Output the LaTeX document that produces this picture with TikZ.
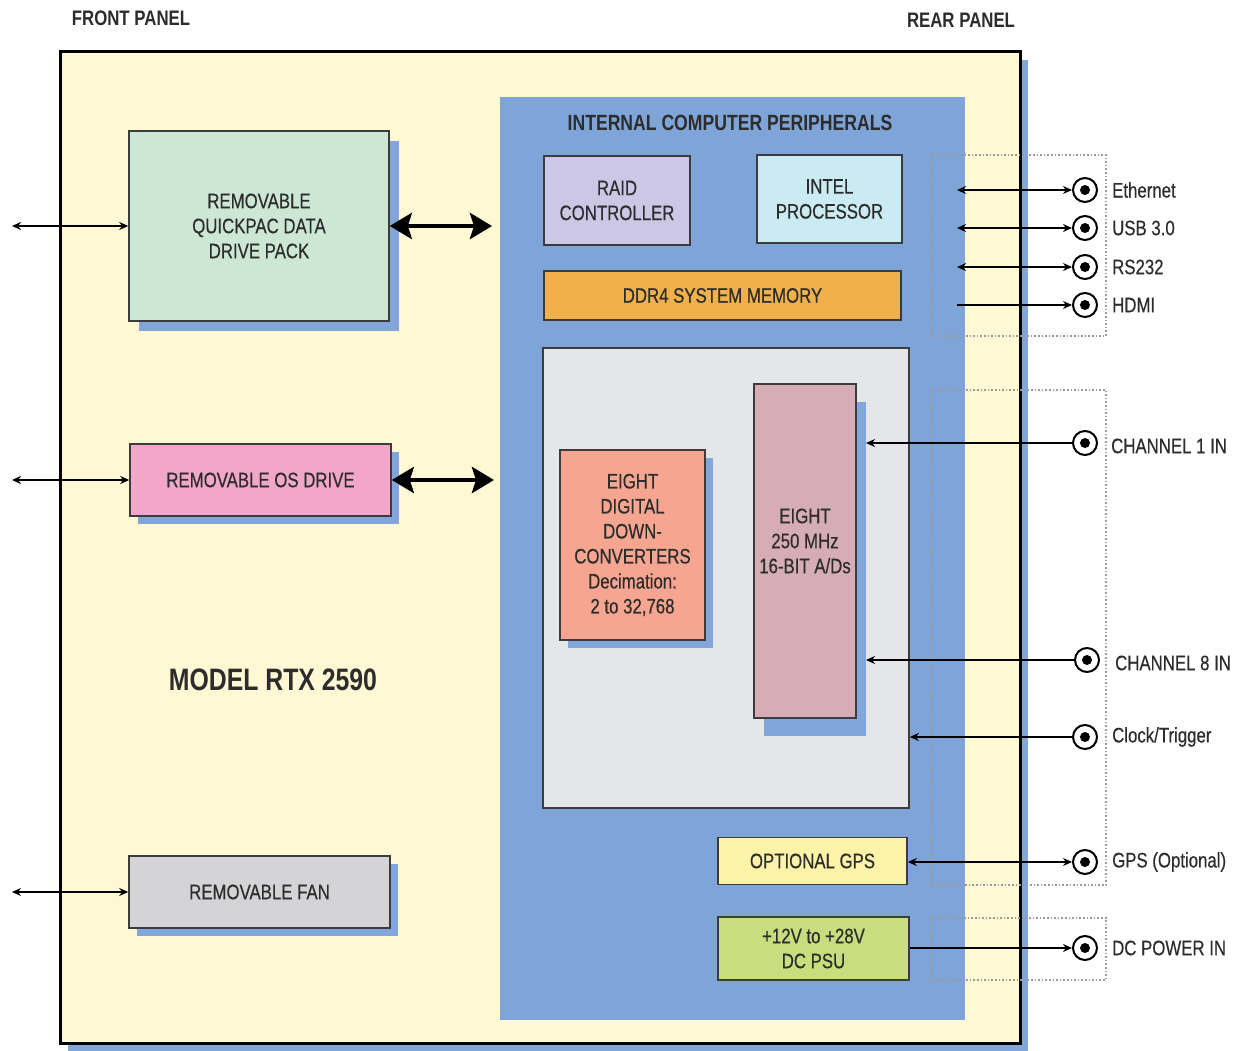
\documentclass[tikz,border=0pt]{standalone}
\usepackage{fontspec}
\setmainfont[FakeStretch=0.8,FakeBold=0.4]{Liberation Sans}
\newfontfamily\boldtitle[FakeStretch=0.8]{Liberation Sans Bold}
\usetikzlibrary{shadows,arrows.meta}
\definecolor{cream}{HTML}{FFF8D4}
\definecolor{panelblue}{HTML}{7FA5D8}
\definecolor{shadowblue}{HTML}{82A6DA}
\definecolor{innergray}{HTML}{E4E6EA}
\definecolor{raidc}{HTML}{CDC7E6}
\definecolor{intelc}{HTML}{CBEBF2}
\definecolor{ddrc}{HTML}{F0B04C}
\definecolor{ddcc}{HTML}{F6A690}
\definecolor{adcc}{HTML}{D6ADB7}
\definecolor{gpsc}{HTML}{FCF2A8}
\definecolor{psuc}{HTML}{C8DD7E}
\definecolor{quickc}{HTML}{CDE7D5}
\definecolor{osc}{HTML}{F2A6CA}
\definecolor{fanc}{HTML}{D4D4D7}
\definecolor{txt}{HTML}{2C2C2C}
\definecolor{edge}{HTML}{3C3C3C}
\definecolor{dotc}{HTML}{9A9A9A}
\tikzset{
  base/.style={font=\fontsize{21}{25}\selectfont, text=txt},
  title/.style={font=\boldtitle\fontsize{#1}{#1}\selectfont, text=txt, inner sep=0pt},
  blk/.style={draw=edge, line width=1.6pt, align=center, inner sep=0pt, base},
  shad/.style={drop shadow={shadow xshift=#1pt, shadow yshift=-#1pt, fill=shadowblue, opacity=1}},
  jack/.style={circle, draw=black, line width=2pt, fill=white, minimum size=24pt, inner sep=0pt,
    path picture={\fill[black] (path picture bounding box.center) circle (5pt);}},
  lbl/.style={base, anchor=west, inner sep=0pt},
  wire/.style={line width=1.5pt, black},
  fat/.style={line width=4.5pt, black, {Stealth[length=22pt,width=26pt,inset=4pt]}-{Stealth[length=22pt,width=26pt,inset=4pt]}},
  frame/.style={dotc, line width=1.6pt, dotted},
  >={Stealth[length=9pt,width=8pt]}
}
\begin{document}
\begin{tikzpicture}[x=1pt,y=-1pt]
\useasboundingbox[fill=white] (0,0) rectangle (1243,1051);

% chassis
\node[draw=black, line width=3pt, fill=cream, minimum width=960pt, minimum height=991pt, inner sep=0pt,
  drop shadow={shadow xshift=8pt, shadow yshift=-8pt, fill=shadowblue, opacity=1}] (chassis) at (540,547.5) {};
\node[fill=panelblue, minimum width=465pt, minimum height=923pt, inner sep=0pt] (periph) at (732.5,558.5) {};

% dotted rear-panel frames
\draw[frame] (931,155) rectangle (1106,336);
\draw[frame] (931,390) rectangle (1106,885);
\draw[frame] (931,918) rectangle (1106,980);

% titles
\node[title=21] (front) at (131,18) {FRONT PANEL};
\node[title=21] (rear) at (961,20) {REAR PANEL};
\node[title=22] (periphtitle) at (730,123) {INTERNAL COMPUTER PERIPHERALS};
\node[title=31] (model) at (273,680) {MODEL RTX 2590};

% internal blocks
\node[blk, fill=raidc, minimum width=146pt, minimum height=89pt] (raid) at (617,200.5) {RAID\\CONTROLLER};
\node[blk, fill=intelc, minimum width=145pt, minimum height=88pt] (intel) at (829.5,199) {INTEL\\PROCESSOR};
\node[blk, fill=ddrc, minimum width=357pt, minimum height=49pt] (ddr) at (722.5,295.5) {DDR4 SYSTEM MEMORY};
\node[blk, fill=innergray, minimum width=366pt, minimum height=460pt] (inner) at (726,578) {};
\node[blk, fill=ddcc, minimum width=145pt, minimum height=190pt, shad=8] (ddc) at (632.5,545)
  {EIGHT\\DIGITAL\\DOWN-\\CONVERTERS\\Decimation:\\2 to 32,768};
\node[blk, fill=adcc, minimum width=102pt, minimum height=334pt,
  drop shadow={shadow xshift=10pt, shadow yshift=-18pt, fill=shadowblue, opacity=1}] (adc) at (805,551) {};
\node[base, align=center, inner sep=0pt] (adctext) at (805,541) {EIGHT\\250 MHz\\16-BIT A/Ds};
\node[blk, fill=gpsc, minimum width=189pt, minimum height=47pt] (gps) at (812.5,861) {OPTIONAL GPS};
\node[blk, fill=psuc, minimum width=191pt, minimum height=63pt] (psu) at (813.5,948.5) {+12V to +28V\\DC PSU};

% front panel blocks
\node[blk, fill=quickc, minimum width=260pt, minimum height=190pt, shad=10] (quick) at (259,226)
  {REMOVABLE\\QUICKPAC DATA\\DRIVE PACK};
\node[blk, fill=osc, minimum width=261pt, minimum height=72pt, shad=8] (os) at (260.5,480) {REMOVABLE OS DRIVE};
\node[blk, fill=fanc, minimum width=261pt, minimum height=72pt, shad=8] (fan) at (259.5,892) {REMOVABLE FAN};

% front connectors
\coordinate (fq) at (12,226);
\coordinate (fo) at (12,480);
\coordinate (ff) at (12,892);
\draw[wire, <->] (fq) -- (quick.west);
\draw[wire, <->] (fo) -- (os.west);
\draw[wire, <->] (ff) -- (fan.west);
\coordinate (bq) at (492,226);
\coordinate (bo) at (494,480);
\draw[fat] (quick.east) -- (bq);
\draw[fat] (os.east) -- (bo);

% rear jacks
\node[jack] (eth) at (1085,190) {};
\node[jack] (usb) at (1085,228) {};
\node[jack] (rs) at (1085,267) {};
\node[jack] (hdmi) at (1085,305) {};
\node[jack] (ch1) at (1085,443) {};
\node[jack] (ch8) at (1087,660) {};
\node[jack] (clk) at (1085,737) {};
\node[jack] (gpsj) at (1085,862) {};
\node[jack] (dcj) at (1085,948) {};

\node[lbl] (ethl) at (1112,190) {Ethernet};
\node[lbl] (usbl) at (1112,228) {USB 3.0};
\node[lbl] (rsl) at (1112,267) {RS232};
\node[lbl] (hdmil) at (1112,305) {HDMI};
\node[lbl] (ch1l) at (1111,446) {CHANNEL 1 IN};
\node[lbl] (ch8l) at (1115,663) {CHANNEL 8 IN};
\node[lbl] (clkl) at (1112,737) {Clock/Trigger};
\node[lbl] (gpsl) at (1112,862) {GPS (Optional)};
\node[lbl] (dcl) at (1112,948) {DC POWER IN};

\coordinate (ethc) at (957,190);
\coordinate (usbc) at (957,228);
\coordinate (rsc) at (957,267);
\coordinate (hdmic) at (957,305);
\coordinate (ch1c) at (866,443);
\coordinate (ch8c) at (866,660);
\draw[wire, <->] (ethc) -- (eth);
\draw[wire, <->] (usbc) -- (usb);
\draw[wire, <->] (rsc) -- (rs);
\draw[wire, ->] (hdmic) -- (hdmi);
\draw[wire, ->] (ch1) -- (ch1c);
\draw[wire, ->] (ch8) -- (ch8c);
\draw[wire, ->] (clk) -- (inner.east |- clk);
\draw[wire, <->] (gps.east |- gpsj) -- (gpsj);
\draw[wire, ->] (psu.east |- dcj) -- (dcj);
\end{tikzpicture}
\end{document}
